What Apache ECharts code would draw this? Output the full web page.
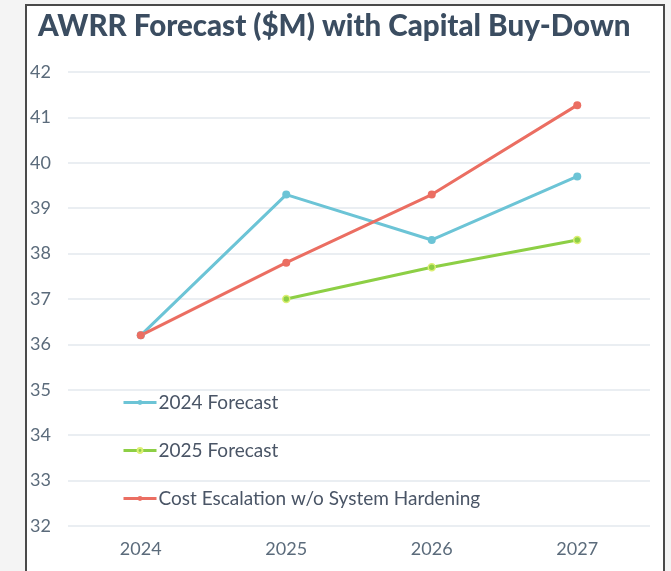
<!DOCTYPE html>
<html lang="en">
<head>
    <meta charset="UTF-8">
    <title>AWRR Forecast</title>
    <style>
    html, body { margin: 0; padding: 0; background: #f4f4f4; overflow: hidden; }
    .panel {
        position: absolute;
        left: 25px;
        top: 4px;
        width: 636px;
        height: 590px;
        border: 2px solid #4a4a4a;
        background: #fff;
    }
    #chart { width: 636px; height: 590px; }
    </style>
</head>
<body>
    <div class="panel"><div id="chart"></div></div>
    <script src="https://cdn.jsdelivr.net/npm/echarts@6/dist/echarts.min.js"></script>
    <script>
        var years = ['2024', '2025', '2026', '2027'];
        var forecast2024 = [36.2, 39.3, 38.3, 39.7];
        var forecast2025 = [null, 37.0, 37.7, 38.3];
        var costEscalation = [36.2, 37.8, 39.3, 41.27];
        var yTicks = { min: 32, max: 42, step: 1 };

        var myChart = echarts.init(document.getElementById('chart'));
        var option = {
            textStyle: { fontFamily: 'Lato' },
            title: {
                text: 'AWRR Forecast ($M) with Capital Buy-Down',
                left: 6,
                top: 0,
                textStyle: { fontFamily: 'Lato', fontWeight: 900, fontSize: 29.5, color: '#3b4d61' }
            },
            legend: {
                orient: 'vertical',
                left: 90,
                top: 382,
                itemGap: 29,
                itemWidth: 33,
                itemHeight: 6,
                lineStyle: { width: 3 },
                textStyle: { fontSize: 19, color: '#4a5566', padding: [0, 0, 0, -3] },
                data: ['2024 Forecast', '2025 Forecast', 'Cost Escalation w/o System Hardening']
            },
            grid: { left: 41, right: 13, top: 66, bottom: 70 },
            xAxis: {
                type: 'category',
                data: years,
                axisLine: { show: false },
                axisTick: { show: false },
                axisLabel: { fontSize: 18, color: '#5b6b7b', margin: 14 }
            },
            yAxis: {
                type: 'value',
                min: yTicks.min,
                max: yTicks.max,
                interval: yTicks.step,
                axisLine: { show: false },
                axisTick: { show: false },
                axisLabel: { fontSize: 18, color: '#5b6b7b', align: 'left', margin: 38 },
                splitLine: { lineStyle: { color: '#e3e8ee', width: 1.5 } }
            },
            series: [
                {
                    name: '2024 Forecast',
                    type: 'line',
                    data: forecast2024,
                    symbol: 'circle',
                    symbolSize: 8,
                    lineStyle: { width: 3, color: '#6cc4d6' },
                    itemStyle: { color: '#6cc4d6' }
                },
                {
                    name: '2025 Forecast',
                    type: 'line',
                    data: forecast2025,
                    symbol: 'circle',
                    symbolSize: 7,
                    lineStyle: { width: 3, color: '#8dcf45' },
                    itemStyle: { color: '#8dcf45', borderColor: '#dcef73', borderWidth: 1.5 }
                },
                {
                    name: 'Cost Escalation w/o System Hardening',
                    type: 'line',
                    data: costEscalation,
                    symbol: 'circle',
                    symbolSize: 8,
                    lineStyle: { width: 3, color: '#eb6e62' },
                    itemStyle: { color: '#eb6e62' }
                }
            ]
        };
        myChart.setOption(option);
    </script>
</body>
</html>
